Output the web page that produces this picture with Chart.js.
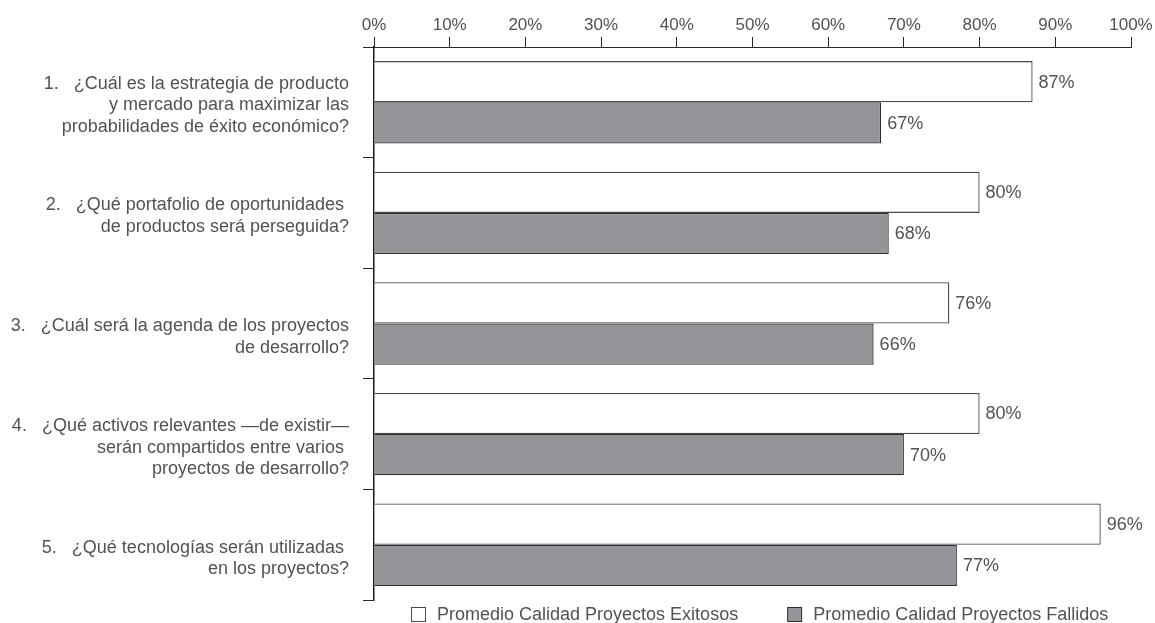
<!DOCTYPE html>
<html>
<head>
<meta charset="utf-8">
<script src="https://cdn.jsdelivr.net/npm/chart.js@4"></script>
<style>
  html, body { margin: 0; padding: 0; background: #ffffff; }
  #wrap { width: 1155px; height: 623px; }
</style>
</head>
<body>
<div id="wrap"><canvas id="c" width="1155" height="623"></canvas></div>
<script>
const categories = [
  ["1.   ¿Cuál es la estrategia de producto", "y mercado para maximizar las", "probabilidades de éxito económico?"],
  ["2.   ¿Qué portafolio de oportunidades ", "de productos será perseguida?"],
  ["", "3.   ¿Cuál será la agenda de los proyectos", "de desarrollo?"],
  ["", "4.   ¿Qué activos relevantes —de existir—", "serán compartidos entre varios ", "proyectos de desarrollo?"],
  ["", "5.   ¿Qué tecnologías serán utilizadas ", "en los proyectos?"]
];
const seriesNames = ["Promedio Calidad Proyectos Exitosos", "Promedio Calidad Proyectos Fallidos"];
const exitosos = [87, 80, 76, 80, 96];
const fallidos = [67, 68, 66, 70, 77];
const xTicks = [0, 10, 20, 30, 40, 50, 60, 70, 80, 90, 100];

const FONT = "'Liberation Sans', Arial, sans-serif";
const TEXT = '#525252';
const AXIS = '#2a2a2a';

const valueLabels = {
  id: 'valueLabels',
  afterDatasetsDraw(chart) {
    const ctx = chart.ctx;
    ctx.save();
    ctx.font = '18px ' + FONT;
    ctx.fillStyle = TEXT;
    ctx.textAlign = 'left';
    ctx.textBaseline = 'middle';
    chart.data.datasets.forEach((ds, di) => {
      const meta = chart.getDatasetMeta(di);
      meta.data.forEach((el, i) => {
        ctx.fillText(ds.data[i] + '%', el.x + 6, el.y + 1);
      });
    });
    ctx.restore();
  }
};

const customLegend = {
  id: 'customLegend',
  afterDraw(chart) {
    const ctx = chart.ctx;
    const area = chart.chartArea;
    ctx.save();
    ctx.font = '18px ' + FONT;
    ctx.textBaseline = 'middle';
    ctx.textAlign = 'left';
    const y = area.bottom + 14;
    let x = area.left + 37;
    const box = 14;
    chart.data.datasets.forEach((ds) => {
      ctx.fillStyle = ds.backgroundColor;
      ctx.strokeStyle = ds.borderColor;
      ctx.lineWidth = 1;
      ctx.fillRect(x + 0.5, Math.round(y - box / 2) + 0.5, box, box);
      ctx.strokeRect(x + 0.5, Math.round(y - box / 2) + 0.5, box, box);
      x += box + 12;
      ctx.fillStyle = TEXT;
      ctx.fillText(ds.label, x, y + 1);
      x += ctx.measureText(ds.label).width + 49;
    });
    ctx.restore();
  }
};

new Chart(document.getElementById('c'), {
  type: 'bar',
  data: {
    labels: categories,
    datasets: [
      {
        label: seriesNames[0],
        data: exitosos,
        backgroundColor: '#ffffff',
        borderColor: '#4a4a4a',
        borderWidth: 1.3,
        categoryPercentage: 0.745,
        barPercentage: 1.0
      },
      {
        label: seriesNames[1],
        data: fallidos,
        backgroundColor: '#939598',
        borderColor: '#2e2e2e',
        borderWidth: 1.3,
        categoryPercentage: 0.745,
        barPercentage: 1.0
      }
    ]
  },
  options: {
    indexAxis: 'y',
    responsive: false,
    animation: false,
    devicePixelRatio: 1,
    layout: { padding: { left: 0, right: 24, top: 11, bottom: 23 } },
    plugins: {
      legend: { display: false },
      tooltip: { enabled: false }
    },
    scales: {
      x: {
        position: 'top',
        min: 0,
        max: 100,
        afterBuildTicks(scale) { scale.ticks = xTicks.map(v => ({ value: v })); },
        afterFit(scale) { scale.height = 36; scale.paddingLeft = 0; scale.paddingRight = 0; },
        ticks: {
          callback: (v) => v + '%',
          color: TEXT,
          font: { family: FONT, size: 17 },
          padding: 1,
          maxRotation: 0,
          autoSkip: false
        },
        grid: {
          drawOnChartArea: false,
          drawTicks: true,
          tickLength: 10,
          color: AXIS,
          lineWidth: 1
        },
        border: { display: true, color: AXIS, width: 1 }
      },
      y: {
        afterFit(scale) { scale.width = 374; scale.paddingTop = 0; scale.paddingBottom = 0; },
        ticks: {
          color: TEXT,
          font: { family: FONT, size: 18, lineHeight: 1.2 },
          padding: 14,
          labelOffset: 3,
          autoSkip: false
        },
        grid: {
          offset: true,
          drawOnChartArea: false,
          drawTicks: true,
          tickLength: 11,
          color: AXIS,
          lineWidth: 1
        },
        border: { display: true, color: '#1a1a1a', width: 1.5 }
      }
    }
  },
  plugins: [valueLabels, customLegend]
});
</script>
</body>
</html>
